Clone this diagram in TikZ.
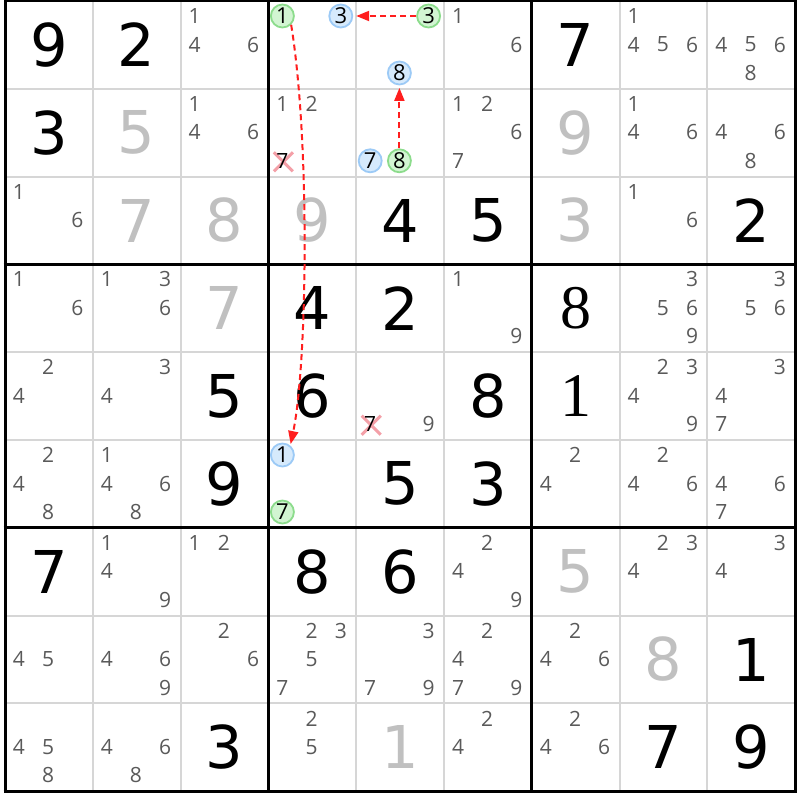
\documentclass[tikz,border=0pt]{standalone}
\usepackage{fontspec}
\usetikzlibrary{arrows.meta,shapes.misc}
\newfontfamily\bigfont{DejaVu Sans}
\newfontfamily\serifbig{Liberation Serif}
\newfontfamily\candfont{Open Sans}
\definecolor{candgray}{HTML}{5A5A5A}
\definecolor{solvedgray}{HTML}{C0C0C0}
\definecolor{thingrid}{HTML}{D6D6D6}
\definecolor{gfill}{HTML}{D2F5D2}
\definecolor{gline}{HTML}{8CDC8C}
\definecolor{bfill}{HTML}{D6EAFC}
\definecolor{bline}{HTML}{9CCAF6}
\definecolor{xpink}{HTML}{F4A0A8}
\definecolor{linkred}{HTML}{FF1E1E}
\newcommand\candpos[3]{%
  \pgfmathsetmacro\candX{5+87.8*(#2-1)+14+29.2*mod(#3-1,3)}%
  \pgfmathsetmacro\candY{1+87.8*(#1-1)+15+28.5*floor((#3-1)/3)}}
\tikzset{
  given/.style={inner sep=0pt,font=\bigfont\fontsize{59}{59}\selectfont,text=black},
  givenserif/.style={inner sep=0pt,font=\serifbig\fontsize{62}{62}\selectfont,text=black},
  solved/.style={inner sep=0pt,font=\bigfont\fontsize{59}{59}\selectfont,text=solvedgray},
  cand/.style={inner sep=0pt,font=\candfont\fontsize{21}{21}\selectfont,text=candgray},
  gcirc/.style={circle,draw=gline,fill=gfill,line width=1.8pt,minimum size=23pt,inner sep=0pt,font=\candfont\fontsize{22}{22}\selectfont,text=black},
  bcirc/.style={circle,draw=bline,fill=bfill,line width=1.8pt,minimum size=23pt,inner sep=0pt,font=\candfont\fontsize{22}{22}\selectfont,text=black},
  xmark/.style={cross out,draw=xpink,line width=3pt,minimum size=16pt,inner sep=0pt},
  xcand/.style={inner sep=0pt,font=\candfont\fontsize{21}{21}\selectfont,text=black},
  link/.style={draw=linkred,line width=2pt,dash pattern=on 6pt off 4pt,-{Triangle[length=13pt,width=10pt,fill=linkred]}},
  gridthin/.style={draw=thingrid,line width=2pt},
  gridthick/.style={draw=black,line width=3pt},
}
\begin{document}
\begin{tikzpicture}[x=1pt,y=-1pt]
\useasboundingbox (0,0) rectangle (800,800);
\fill[white] (0,0) rectangle (800,800);
% thin grid
\foreach \i in {1,2,4,5,7,8} {
  \draw[gridthin] ({5+87.8*\i},1) -- ({5+87.8*\i},791.2);
  \draw[gridthin] (5,{1+87.8*\i}) -- (795.2,{1+87.8*\i});
}
\foreach \i in {0,3,6,9} {
  \draw[gridthick] ({5+87.8*\i},-0.5) -- ({5+87.8*\i},792.7);
  \draw[gridthick] (3.5,{1+87.8*\i}) -- (796.7,{1+87.8*\i});
}
% givens
\foreach \r/\c/\d in {1/1/9,1/2/2,1/7/7,2/1/3,3/5/4,3/6/5,3/9/2,4/4/4,4/5/2,5/3/5,5/4/6,5/6/8,6/3/9,6/5/5,6/6/3,7/1/7,7/4/8,7/5/6,8/9/1,9/3/3,9/8/7,9/9/9} {
  \pgfmathsetmacro\gX{5+87.8*(\c-0.5)}
  \pgfmathsetmacro\gY{1+87.8*(\r-0.5)}
  \node[given] (v-\r-\c) at (\gX,\gY) {\d};
}
\foreach \r/\c/\d in {4/7/8,5/7/1} {
  \pgfmathsetmacro\gX{5+87.8*(\c-0.5)}
  \pgfmathsetmacro\gY{1+87.8*(\r-0.5)}
  \node[givenserif] (v-\r-\c) at (\gX,\gY) {\d};
}
\foreach \r/\c/\d in {2/2/5,2/7/9,3/2/7,3/3/8,3/4/9,3/7/3,4/3/7,7/7/5,8/8/8,9/5/1} {
  \pgfmathsetmacro\gX{5+87.8*(\c-0.5)}
  \pgfmathsetmacro\gY{1+87.8*(\r-0.5)}
  \node[solved] (v-\r-\c) at (\gX,\gY) {\d};
}
% candidates
\foreach \r/\c/\L in {1/3/{1,4,6},1/6/{1,6},1/8/{1,4,5,6},1/9/{4,5,6,8},
  2/3/{1,4,6},2/4/{1,2},2/6/{1,2,6,7},2/8/{1,4,6},2/9/{4,6,8},
  3/1/{1,6},3/8/{1,6},
  4/1/{1,6},4/2/{1,3,6},4/6/{1,9},4/8/{3,5,6,9},4/9/{3,5,6},
  5/1/{2,4},5/2/{3,4},5/5/{9},5/8/{2,3,4,9},5/9/{3,4,7},
  6/1/{2,4,8},6/2/{1,4,6,8},6/7/{2,4},6/8/{2,4,6},6/9/{4,6,7},
  7/2/{1,4,9},7/3/{1,2},7/6/{2,4,9},7/8/{2,3,4},7/9/{3,4},
  8/1/{4,5},8/2/{4,6,9},8/3/{2,6},8/4/{2,3,5,7},8/5/{3,7,9},8/6/{2,4,7,9},8/7/{2,4,6},
  9/1/{4,5,8},9/2/{4,6,8},9/4/{2,5},9/6/{2,4},9/7/{2,4,6}} {
  \foreach \d in \L {
    \candpos{\r}{\c}{\d}
    \node[cand] (k-\r-\c-\d) at (\candX,\candY) {\d};
  }
}
% eliminated candidates
\candpos{2}{4}{7}
\node[xmark] (xa) at (\candX+1,\candY+1) {};
\node[xcand] (xa7) at (\candX,\candY) {7};
\candpos{5}{5}{7}
\node[xmark] (xb) at (\candX+1,\candY+1) {};
\node[xcand] (xb7) at (\candX,\candY) {7};
% highlighted candidates
\candpos{1}{4}{1} \node[gcirc] (g1) at (\candX,\candY) {1};
\candpos{1}{4}{3} \node[bcirc] (b3) at (\candX,\candY) {3};
\candpos{1}{5}{3} \node[gcirc] (g3) at (\candX,\candY) {3};
\candpos{1}{5}{8} \node[bcirc] (b8) at (\candX,\candY) {8};
\candpos{2}{5}{7} \node[bcirc] (b7) at (\candX,\candY) {7};
\candpos{2}{5}{8} \node[gcirc] (g8) at (\candX,\candY) {8};
\candpos{6}{4}{1} \node[bcirc] (b1) at (\candX,\candY) {1};
\candpos{6}{4}{7} \node[gcirc] (g7) at (\candX,\candY) {7};
% links
\draw[link,shorten >=3pt] (g3) -- (b3);
\draw[link,shorten >=2.5pt] (g8) -- (b8);
\draw[link,shorten >=1.5pt] (g1.-45) .. controls +(19,117) and +(17,-82) .. (b1.50);
\end{tikzpicture}
\end{document}
